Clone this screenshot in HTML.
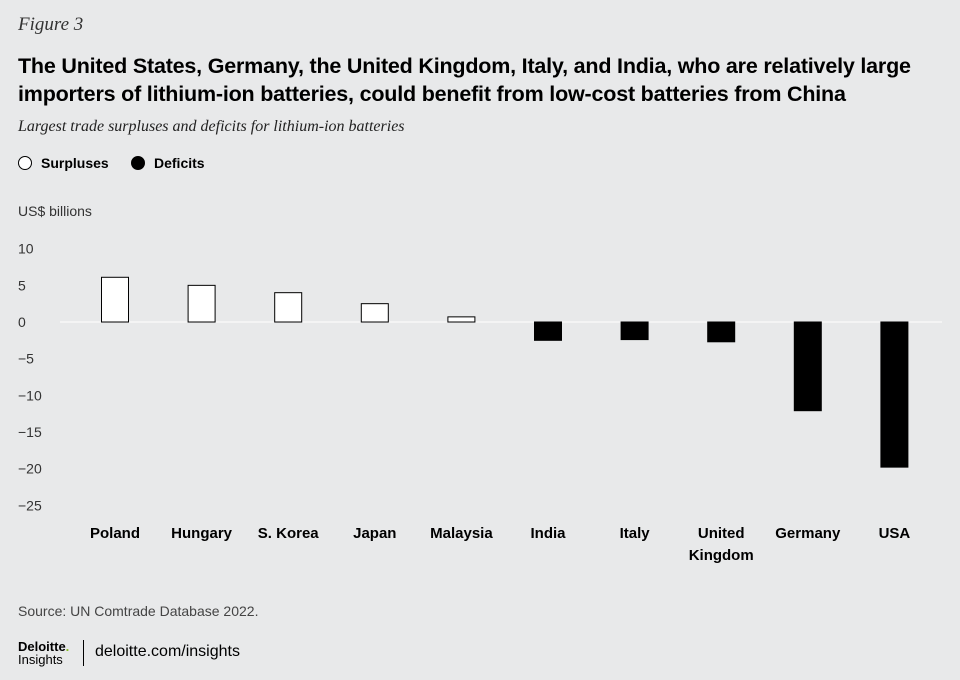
<!DOCTYPE html>
<html><head><meta charset="utf-8">
<style>
body{margin:0;background:#e8e9ea;width:960px;height:680px;overflow:hidden;font-family:"Liberation Sans",sans-serif;color:#000;position:relative}
.abs{position:absolute}
#fig{left:18px;top:14px;font-family:"Liberation Serif",serif;font-style:italic;font-size:19px;color:#333}
#title{left:18px;top:52px;font-family:"Liberation Sans Narrow","Liberation Sans",sans-serif;font-weight:bold;font-size:21.5px;line-height:28px;letter-spacing:-0.2px;width:930px}
#sub{left:18px;top:118px;font-family:"Liberation Serif",serif;font-style:italic;font-size:16px;color:#222}
.leg{top:155px;font-family:"Liberation Sans Narrow","Liberation Sans",sans-serif;font-weight:bold;font-size:14px;display:flex;align-items:center}
.dot{width:14px;height:14px;border-radius:50%;border:1px solid #000;margin-right:9px;box-sizing:border-box}
#unit{left:18px;top:203px;font-size:14px;color:#333}
#src{left:18px;top:603px;font-size:14px;color:#444}
#logo{left:18px;top:640px;font-weight:bold;font-size:13px;line-height:13px}
#url{left:95px;top:643px;font-size:16px}
</style></head><body>
<div class="abs" id="fig">Figure 3</div>
<div class="abs" id="title">The United States, Germany, the United Kingdom, Italy, and India, who are relatively large importers of lithium-ion batteries, could benefit from low-cost batteries from China</div>
<div class="abs" id="sub">Largest trade surpluses and deficits for lithium-ion batteries</div>
<div class="abs leg" style="left:18px"><span class="dot" style="background:#fff"></span>Surpluses</div>
<div class="abs leg" style="left:131px"><span class="dot" style="background:#000"></span>Deficits</div>
<div class="abs" id="unit">US$ billions</div>
<svg class="abs" style="left:0;top:0" width="960" height="680" id="chart"></svg>
<div class="abs" id="src">Source: UN Comtrade Database 2022.</div>
<div class="abs" id="logo">Deloitte<span style="color:#86bc25">.</span><br><span style="font-weight:normal">Insights</span></div>
<div class="abs" style="left:83px;top:640px;width:1px;height:26px;background:#000"></div>
<div class="abs" id="url">deloitte.com/insights</div>
<script>
const categories=["Poland","Hungary","S. Korea","Japan","Malaysia","India","Italy","United|Kingdom","Germany","USA"];
const values=[6.1,5.0,4.0,2.5,0.7,-2.5,-2.4,-2.7,-12.1,-19.8];
const ticks=[10,5,0,-5,-10,-15,-20,-25];
const NS="http://www.w3.org/2000/svg";
const svg=document.getElementById('chart');
function y(v){return 322-v*7.33;}
function x(i){return 115+i*86.6;}
function mk(t,a){const e=document.createElementNS(NS,t);for(const k in a)e.setAttribute(k,a[k]);svg.appendChild(e);return e;}
ticks.forEach(t=>{
  const e=mk('text',{x:18,y:y(t)+5,'font-size':14,fill:'#333','font-family':'Liberation Sans, sans-serif'});
  e.textContent=t<0?'\u2212'+(-t):String(t);
  
  
});
const zl=mk('line',{x1:60,x2:942,y1:y(0),y2:y(0),stroke:'#fff','stroke-width':1});


values.forEach((v,i)=>{
  const top=Math.min(y(v),y(0)),h=Math.abs(y(v)-y(0));
  const r=mk('rect',{x:x(i)-13.5,y:top,width:27,height:h,fill:v>=0?'#fff':'#000',stroke:'#000','stroke-width':1});
  
  
  categories[i].split('|').forEach((s,j)=>{
    const t=mk('text',{x:x(i),y:538+j*22,'text-anchor':'middle','font-size':15,'font-weight':'bold','font-family':'Liberation Sans Narrow, Liberation Sans, sans-serif'});
    t.textContent=s;
    
    
  });
});
</script>
</body></html>
